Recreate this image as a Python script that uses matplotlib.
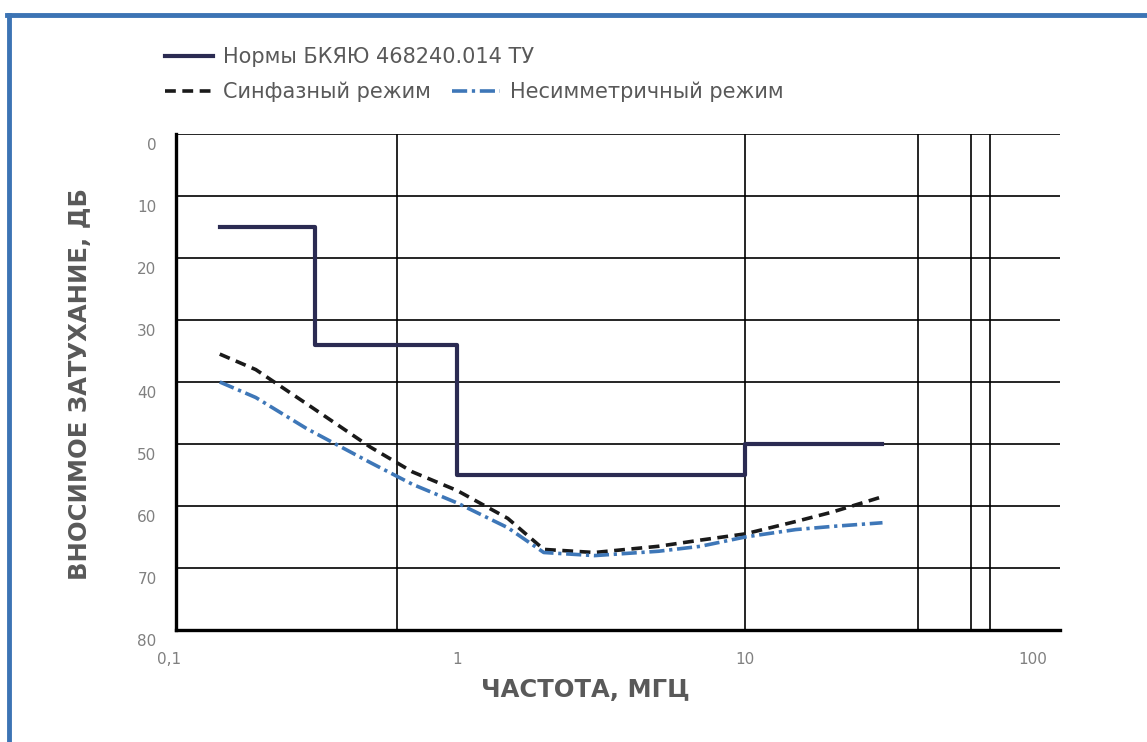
import matplotlib
matplotlib.use("Agg")
import matplotlib.pyplot as plt
from matplotlib.lines import Line2D
from matplotlib.transforms import ScaledTranslation, blended_transform_factory

# data
norm_freq = [0.15, 0.32, 1, 10, 30]
norm_level = [15, 34, 55, 50, 50]

freq = [0.15, 0.2, 0.3, 0.5, 0.7, 1, 1.5, 2, 3, 5, 7, 10, 15, 20, 30]
common_mode = [35.5, 38, 43.5, 50.5, 54.5, 57.5, 62, 67, 67.5, 66.5, 65.5, 64.5, 62.5, 61, 58.5]
diff_mode = [40, 42.5, 47.5, 53, 56.5, 59.5, 63.5, 67.5, 68, 67.3, 66.5, 65, 63.8, 63.3, 62.7]

x_tick_vals = [0.1, 1, 10, 100]
x_tick_text = ["0,1", "1", "10", "100"]
x_grid = [0.62, 10, 40, 61, 71]
y_ticks = [0, 10, 20, 30, 40, 50, 60, 70, 80]

NAVY = "#2b2b52"
BLUE = "#3e77b8"
GRAY = "#595959"
LGRAY = "#808080"

W, H = 1147, 742
fig = plt.figure(figsize=(W / 100, H / 100), dpi=100)
ax = fig.add_axes([176 / W, 1 - 630 / H, (1060 - 176) / W, (630 - 134) / H])

ax.step(norm_freq, norm_level, where="post", color=NAVY, lw=3.0,
        label="Нормы БКЯЮ 468240.014 ТУ", zorder=4)
ax.plot(freq, common_mode, color="#1a1a1a", lw=2.6, dashes=(3.0, 1.8),
        label="Синфазный режим", zorder=4)
ax.plot(freq, diff_mode, color=BLUE, lw=2.6, dashes=(4.2, 1.3, 0.9, 1.3),
        label="Несимметричный режим", zorder=4)

ax.set_xscale("log")
ax.set_xlim(0.1057, 124)
ax.set_ylim(80, 0)

ax.set_xticks(x_grid)
ax.set_xticks([], minor=True)
ax.set_xticklabels([])
ax.set_yticks(y_ticks)
ax.set_yticklabels([str(v) for v in y_ticks], color=LGRAY, fontsize=11)
ax.tick_params(length=0)
ax.tick_params(axis="y", pad=14)
ax.grid(True, color="black", lw=1.2)

# y labels sit a bit below their grid lines in the original
off = ScaledTranslation(0, -0.1, fig.dpi_scale_trans)
for lbl in ax.get_yticklabels():
    lbl.set_transform(lbl.get_transform() + off)

tr = blended_transform_factory(ax.transData, ax.transAxes)
for v, t in zip(x_tick_vals, x_tick_text):
    ax.text(v, -0.06, t, transform=tr, ha="center", va="center",
            color=LGRAY, fontsize=11, clip_on=False)

for side in ["top", "right"]:
    ax.spines[side].set_visible(False)
for side in ["left", "bottom"]:
    ax.spines[side].set_linewidth(2.4)
    ax.spines[side].set_color("black")

fig.text(585 / W, 1 - 690 / H, "ЧАСТОТА, МГЦ", ha="center", va="center",
         fontsize=17.5, fontweight="bold", color=GRAY)
fig.text(80 / W, 1 - 384 / H, "ВНОСИМОЕ ЗАТУХАНИЕ, ДБ", ha="center", va="center",
         rotation=90, fontsize=17.5, fontweight="bold", color=GRAY)

h, l = ax.get_legend_handles_labels()
leg1 = fig.legend([h[0]], [l[0]], loc="center left", bbox_to_anchor=(165 / W, 1 - 57 / H),
                  frameon=False, fontsize=15, handlelength=2.3, handletextpad=0.5,
                  borderpad=0, borderaxespad=0, labelcolor=GRAY)
leg2 = fig.legend(h[1:], l[1:], loc="center left", bbox_to_anchor=(165 / W, 1 - 92 / H),
                  ncol=2, frameon=False, fontsize=15, handlelength=2.3, handletextpad=0.5,
                  columnspacing=1.0, borderpad=0, borderaxespad=0, labelcolor=GRAY)

# blue frame along the top and left edges
fig.add_artist(Line2D([9 / W, 9 / W], [0, 1 - 15 / H], color="#3c74b4", lw=3.5,
                      transform=fig.transFigure))
fig.add_artist(Line2D([7 / W, 1], [1 - 15 / H, 1 - 15 / H], color="#3c74b4", lw=3.5,
                      transform=fig.transFigure))

fig.savefig("out.png", dpi=100)
